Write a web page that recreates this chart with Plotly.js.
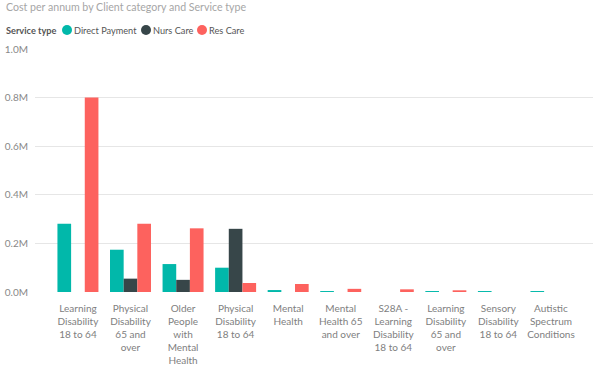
<!DOCTYPE html>
<html><head><meta charset="utf-8">
<script src="https://cdn.plot.ly/plotly-3.0.1.min.js"></script>
<style>html,body{margin:0;padding:0;background:#fff}#chart{width:606px;height:369px}</style>
</head><body><div id="chart"></div>
<script>
var categories = ["Learning<br>Disability<br>18 to 64","Physical<br>Disability<br>65 and<br>over","Older<br>People<br>with<br>Mental<br>Health","Physical<br>Disability<br>18 to 64","Mental<br>Health","Mental<br>Health 65<br>and over","S28A -<br>Learning<br>Disability<br>18 to 64","Learning<br>Disability<br>65 and<br>over","Sensory<br>Disability<br>18 to 64","Autistic<br>Spectrum<br>Conditions"];
var directPayment = [281000,174000,115000,100000,8000,4000,null,4000,4000,4000];
var nursCare = [null,55000,50000,260000,null,null,null,null,null,null];
var resCare = [800000,281000,262000,37000,33000,13000,11000,7000,null,null];
var seriesNames = ["Direct Payment","Nurs Care","Res Care"];
var seriesColors = ["#01B8AA","#374649","#FD625E"];
var yTickVals = [0,200000,400000,600000,800000,1000000];
var yTickText = ["0.0M","0.2M","0.4M","0.6M","0.8M","1.0M"];

var font = "Segoe UI, Lato, 'Open Sans', sans-serif";
var seriesData = [directPayment, nursCare, resCare];
var traces = seriesData.map(function(d,i){
  return {type:'bar', name:seriesNames[i], x:categories, y:d,
    marker:{color:seriesColors[i]}, showlegend:false, hoverinfo:'x+y'};
});

var ML = 35, MR = 13, W = 606, PW = W - ML - MR, MT = 49, MB = 77, H = 369, PH = H - MT - MB;
function px2x(p){ return (p - ML)/PW; }
function py2y(p){ return (H - MB - p)/PH; }

var annotations = [
  {text:"Cost per annum by Client category and Service type", xref:'paper', yref:'paper', x:px2x(4), y:py2y(7), xanchor:'left', yanchor:'middle', showarrow:false, font:{family:font, size:10.6, color:'#a6a6a6'}},
  {text:"<b>Service type</b>", xref:'paper', yref:'paper', x:px2x(4), y:py2y(30), xanchor:'left', yanchor:'middle', showarrow:false, font:{family:font, size:9.2, color:'#555'}}
];
var legendX = [67, 146, 202];
var shapes = [];
seriesNames.forEach(function(n,i){
  shapes.push({type:'circle', xref:'paper', yref:'paper', xsizemode:'pixel', ysizemode:'pixel', xanchor:px2x(legendX[i]), yanchor:py2y(30), x0:-5, x1:5, y0:-5, y1:5, fillcolor:seriesColors[i], line:{width:0}});
  annotations.push({text:n, xref:'paper', yref:'paper', x:px2x(legendX[i]+5), y:py2y(30), xanchor:'left', yanchor:'middle', showarrow:false, font:{family:font, size:9.2, color:'#555'}});
});

var layout = {
  width:W, height:H, margin:{l:ML, r:MR, t:MT, b:MB, pad:0},
  paper_bgcolor:'#fff', plot_bgcolor:'#fff',
  barmode:'group', bargap:0.22, bargroupgap:0,
  font:{family:font, size:10, color:'#777'},
  xaxis:{type:'category', range:[-0.817, 9.8], showgrid:false, zeroline:false, showline:false, ticks:'', tickfont:{family:font, size:10, color:'#808080'}, tickangle:0, ticklabelstandoff:9, automargin:false, fixedrange:true},
  yaxis:{range:[0,1000000], tickvals:yTickVals, ticktext:yTickText, showgrid:true, gridcolor:'#e6e6e6', gridwidth:1, zeroline:false, showline:false, ticks:'', tickfont:{family:font, size:10, color:'#888'}, ticklabelstandoff:6, automargin:false, fixedrange:true},
  annotations:annotations, shapes:shapes, showlegend:false
};
Plotly.newPlot('chart', traces, layout, {displayModeBar:false, staticPlot:true});
</script></body></html>
